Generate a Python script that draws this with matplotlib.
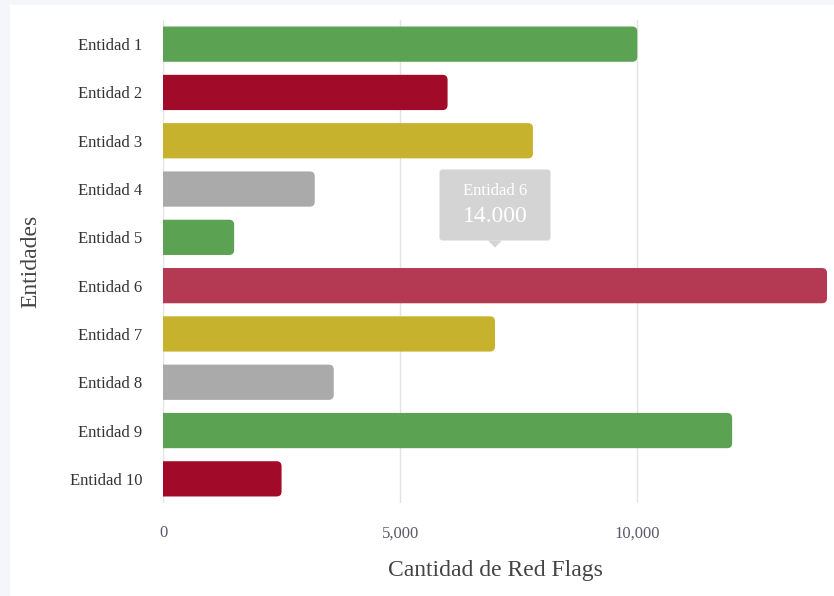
import matplotlib
matplotlib.use("Agg")
import matplotlib.pyplot as plt
from matplotlib.patches import FancyBboxPatch, Rectangle, Polygon
from matplotlib.ticker import FuncFormatter

entidades = [f"Entidad {i}" for i in range(1, 11)]
valores = [10000, 6000, 7800, 3200, 1500, 14000, 7000, 3600, 12000, 2500]
colores = ["#5ba352", "#a10a28", "#c7b22e", "#aaaaaa"] * 3
hover_idx = 5
hover_color = "#b33a52"
xticks = [0, 5000, 10000]

FONT = ["Liberation Serif", "DejaVu Serif"]
plt.rcParams["font.family"] = FONT

W, H = 834, 596
fig = plt.figure(figsize=(W / 100, H / 100), dpi=100, facecolor="#f4f6fb")
card = Rectangle((10 / W, 0), 1 - 10 / W, 1 - 5 / H, transform=fig.transFigure,
                 facecolor="white", edgecolor="none", zorder=-10)
fig.add_artist(card)

ax = fig.add_axes([163 / W, 1 - 503 / H, 664 / W, 483 / H])
ax.set_zorder(2)
ax.set_facecolor("none")
ax.set_xlim(0, 14000)
ax.set_ylim(len(entidades) - 0.5, -0.5)

bar_h = 0.73
# units per pixel
ux = 14000 / 664
uy = len(entidades) / 483
r = 5 * ux
bars = ax.barh(range(len(entidades)), valores, height=bar_h, color="none")
for i, b in enumerate(bars):
    b.set_visible(False)
    c = hover_color if i == hover_idx else colores[i]
    x0, y0 = b.get_x(), b.get_y()
    w, h = b.get_width(), b.get_height()
    p = FancyBboxPatch((x0 - 2 * r, y0), w + 2 * r, h,
                       boxstyle=f"round,pad=0,rounding_size={r}",
                       mutation_aspect=uy / ux, facecolor=c, edgecolor="none",
                       zorder=3, clip_on=True)
    ax.add_patch(p)

ax.set_yticks(range(len(entidades)))
ax.set_yticklabels(entidades)
ax.set_xticks(xticks)
ax.xaxis.set_major_formatter(FuncFormatter(lambda v, p: f"{int(v):,}"))
ax.tick_params(axis="y", length=0, pad=15, labelsize=12, labelcolor="#333333")
ax.tick_params(axis="x", length=0, pad=16, labelsize=12, labelcolor="#5a5a6a")
for s in ax.spines.values():
    s.set_visible(False)
ax.grid(axis="x", color="#e3e3e3", linewidth=1, zorder=0)
ax.set_axisbelow(True)

ax.set_xlabel("Cantidad de Red Flags", fontsize=17, color="#444444")
ax.set_ylabel("Entidades", fontsize=17, color="#444444")
ax.xaxis.set_label_coords(0.5, -(560 - 503) / 483)
ax.yaxis.set_label_coords((41 - 163) / 664, 0.5)

# tooltip
tx = valores[hover_idx] / 2
bw, bh = 111 * ux, 71 * uy
by = 3.33
tip = FancyBboxPatch((tx - bw / 2, by - bh / 2), bw, bh,
                     boxstyle=f"round,pad=0,rounding_size={3 * ux}",
                     mutation_aspect=uy / ux, facecolor="#d4d4d4", edgecolor="none",
                     zorder=5, clip_on=False)
ax.add_patch(tip)
ax.add_patch(Polygon([(tx - 7 * ux, by + bh / 2), (tx + 7 * ux, by + bh / 2), (tx, by + bh / 2 + 7 * uy)],
                     closed=True, facecolor="#d4d4d4", edgecolor="none", zorder=5))
ax.text(tx, by - 0.29, entidades[hover_idx], ha="center", va="center", color="white",
        fontsize=12, zorder=6)
ax.text(tx, by + 0.23, f"{valores[hover_idx]:,}".replace(",", "."), ha="center", va="center",
        color="white", fontsize=17, zorder=6)

fig.savefig("out.png", dpi=100, facecolor=fig.get_facecolor())
